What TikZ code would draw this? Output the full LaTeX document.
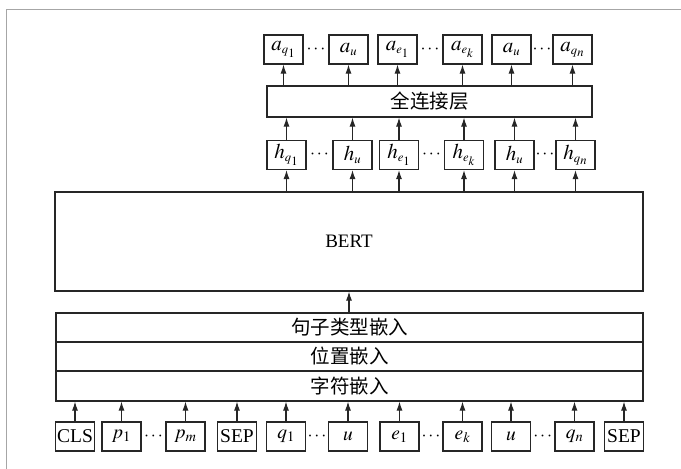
\documentclass[tikz,border=0pt]{standalone}
\usepackage{mathptmx}
\usepackage[no-math]{fontspec}
\setmainfont{Liberation Serif}
\newfontfamily\cjk{Noto Sans CJK SC}
\usetikzlibrary{arrows.meta,calc}
\begin{document}
\begin{tikzpicture}[x=1pt,y=-1pt,
  frame/.style={draw=black!35, line width=1.5pt},
  box/.style={draw=black!85, line width=1.1pt, inner sep=0pt, minimum width=39pt, minimum height=29pt, font=\fontsize{17}{20}\selectfont},
  tbox/.style={box, font=\fontsize{21}{24}\selectfont},
  bbox/.style={box, font=\fontsize{19.5}{22}\selectfont},
  wide/.style={draw=black!85, line width=1.1pt, inner sep=0pt, font=\fontsize{19}{22}\selectfont},
  cn/.style={font=\fontsize{19.5}{22}\selectfont\cjk},
  arr/.style={draw=black!85, line width=1.1pt, -{Latex[length=9pt,width=6pt]}},
  dotn/.style={inner sep=0pt, font=\fontsize{18}{20}\selectfont}]
\useasboundingbox (0,0) rectangle (681,469);
\draw[frame] (6.5,469) -- (6.5,9.5) -- (681,9.5);

% output row
\node[tbox] (a1) at (283.5,49.5) {$a_{\scriptscriptstyle q_1}$};
\node[tbox] (a2) at (348.5,49.5) {$a_{\scriptscriptstyle u}$};
\node[tbox] (a3) at (397.5,49.5) {$a_{\scriptscriptstyle e_1}$};
\node[tbox] (a4) at (462.5,49.5) {$a_{\scriptscriptstyle e_k}$};
\node[tbox] (a5) at (511.5,49.5) {$a_{\scriptscriptstyle u}$};
\node[tbox] (a6) at (572.5,49.5) {$a_{\scriptscriptstyle q_n}$};
\node[dotn] (ad1) at ($(a1.east)!0.5!(a2.west)$) {$\cdots$};
\node[dotn] (ad2) at ($(a3.east)!0.5!(a4.west)$) {$\cdots$};
\node[dotn] (ad3) at ($(a5.east)!0.5!(a6.west)$) {$\cdots$};

% fully connected layer
\node[wide, cn, minimum width=325pt, minimum height=31pt] (fc) at (429.5,101.5) {全连接层};

% hidden row
\node[tbox] (h1) at (286.5,155) {$h_{\scriptscriptstyle q_1}$};
\node[tbox] (h2) at (352.5,155) {$h_{\scriptscriptstyle u}$};
\node[tbox] (h3) at (399,155) {$h_{\scriptscriptstyle e_1}$};
\node[tbox] (h4) at (464,155) {$h_{\scriptscriptstyle e_k}$};
\node[tbox] (h5) at (514.5,155) {$h_{\scriptscriptstyle u}$};
\node[tbox] (h6) at (575.5,155) {$h_{\scriptscriptstyle q_n}$};
\node[dotn] (hd1) at ($(h1.east)!0.5!(h2.west)$) {$\cdots$};
\node[dotn] (hd2) at ($(h3.east)!0.5!(h4.west)$) {$\cdots$};
\node[dotn] (hd3) at ($(h5.east)!0.5!(h6.west)$) {$\cdots$};

% BERT
\node[wide, minimum width=588pt, minimum height=99pt] (bert) at (349,241.5) {BERT};

% embeddings
\node[wide, cn, minimum width=587pt, minimum height=29pt] (seg) at (349.5,327.5) {句子类型嵌入};
\node[wide, cn, minimum width=587pt, minimum height=29pt] (pos) at (349.5,356.5) {位置嵌入};
\node[wide, cn, minimum width=587pt, minimum height=30pt] (tok) at (349.5,386) {字符嵌入};

% input row
\node[bbox] (i1) at (75,436.5) {CLS};
\node[bbox] (i2) at (121.5,436.5) {$p_1$};
\node[bbox] (i3) at (185.5,436.5) {$p_m$};
\node[bbox] (i4) at (237,436.5) {SEP};
\node[bbox] (i5) at (286,436.5) {$q_1$};
\node[bbox] (i6) at (348,436.5) {$u$};
\node[bbox] (i7) at (399.5,436.5) {$e_1$};
\node[bbox] (i8) at (462.5,436.5) {$e_k$};
\node[bbox] (i9) at (511,436.5) {$u$};
\node[bbox] (i10) at (574.5,436.5) {$q_n$};
\node[bbox] (i11) at (624,436.5) {SEP};
\node[dotn] (id1) at ($(i2.east)!0.5!(i3.west)$) {$\cdots$};
\node[dotn] (id2) at ($(i5.east)!0.5!(i6.west)$) {$\cdots$};
\node[dotn] (id3) at ($(i7.east)!0.5!(i8.west)$) {$\cdots$};
\node[dotn] (id4) at ($(i9.east)!0.5!(i10.west)$) {$\cdots$};

% arrows
\foreach \n in {1,...,6} {
  \draw[arr] (a\n.south |- fc.north) -- (a\n.south);
  \draw[arr] (h\n.north) -- (h\n.north |- fc.south);
  \draw[arr] (h\n.south |- bert.north) -- (h\n.south);
}
\draw[arr] (seg.north -| bert.south) -- (bert.south);
\foreach \n in {1,...,11} {
  \draw[arr] (i\n.north) -- (i\n.north |- tok.south);
}
\end{tikzpicture}
\end{document}
